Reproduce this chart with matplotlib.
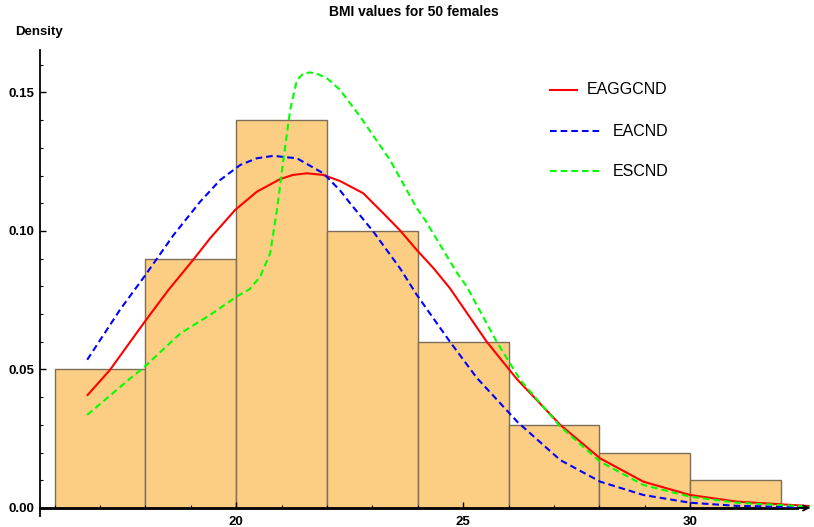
import numpy as np
import matplotlib
matplotlib.use("Agg")
import matplotlib.pyplot as plt
from matplotlib.lines import Line2D

# ---- data ----
bin_edges = [16, 18, 20, 22, 24, 26, 28, 30, 32]
densities = [0.05, 0.09, 0.14, 0.10, 0.06, 0.03, 0.02, 0.01]

eaggcnd_x = [16.73, 17.22, 17.99, 18.5, 19.06, 19.43, 19.98, 20.46, 20.97, 21.25, 21.56, 21.92, 22.29,
             22.80, 23.24, 23.61, 23.98, 24.35, 24.71, 25.1, 25.52, 26.18, 27.14, 28.02, 28.97, 30.0,
             31.03, 32.64]
eaggcnd_y = [0.0408, 0.0498, 0.0673, 0.0785, 0.0897, 0.0974, 0.1076, 0.1142, 0.1187, 0.1202, 0.1208,
             0.1202, 0.1180, 0.1136, 0.1064, 0.1002, 0.0931, 0.0865, 0.0793, 0.0700, 0.0600, 0.0466,
             0.0300, 0.0179, 0.0095, 0.0047, 0.0023, 0.0007]

eacnd_x = [16.72, 17.44, 17.99, 18.62, 19.21, 19.65, 20.09, 20.45, 20.82, 21.34, 21.92, 22.29, 22.51,
           23.02, 23.61, 23.98, 24.71, 25.30, 26.2, 27.14, 28.02, 28.97, 30.0, 31.0, 32.64]
eacnd_y = [0.0535, 0.0715, 0.0838, 0.0985, 0.1106, 0.1184, 0.1238, 0.1262, 0.1271, 0.1262, 0.1208,
           0.1146, 0.1100, 0.0998, 0.0865, 0.0769, 0.0600, 0.0470, 0.0310, 0.0173, 0.0095, 0.0047,
           0.0019, 0.0008, 0.0002]

escnd_x = [16.72, 17.11, 17.67, 17.96, 18.77, 19.43, 20.01, 20.3, 20.53, 20.75, 20.9, 21.04, 21.19,
           21.34, 21.48, 21.63, 21.8, 22.0, 22.29, 22.73, 23.39, 23.98, 24.16, 24.86, 25.08, 25.74,
           26.26, 27.14, 28.02, 28.97, 30.0, 31.03, 32.64]
escnd_y = [0.0336, 0.0390, 0.0468, 0.0506, 0.0630, 0.0697, 0.0763, 0.0790, 0.0835, 0.0920, 0.1076,
           0.1256, 0.1437, 0.1545, 0.1568, 0.1572, 0.1566, 0.1551, 0.1509, 0.1413, 0.1256, 0.1082,
           0.1040, 0.0850, 0.0799, 0.0600, 0.0462, 0.0294, 0.0167, 0.0083, 0.0041, 0.0019, 0.0005]

series_names = ["EAGGCND", "EACND", "ESCND"]
x_major = [20, 25, 30]
y_major = [0.00, 0.05, 0.10, 0.15]
y_labels = ["0.00", "0.05", "0.10", "0.15"]

# ---- figure ----
plt.rcParams['font.family'] = ['Liberation Sans', 'DejaVu Sans']
W, H = 814, 527
fig = plt.figure(figsize=(W / 100, H / 100), dpi=100)

xmin, xmax = 15.68, 32.64
ymin, ymax = -0.003, 0.1653
left_px, right_px = 40, 810
bottom_px = 508 + 0.003 * 2770
top_px = 50
ax = fig.add_axes([left_px / W, 1 - bottom_px / H, (right_px - left_px) / W, (bottom_px - top_px) / H])
ax.set_xlim(xmin, xmax)
ax.set_ylim(ymin, ymax)

# histogram
widths = np.diff(bin_edges)
ax.bar(bin_edges[:-1], densities, width=widths, align='edge', color='#FBCE83',
       edgecolor='#7E6E58', linewidth=1.0, zorder=1)

lw = 1.5
dash = (0, (3.2, 1.9))
ax.plot(eaggcnd_x, eaggcnd_y, color='#FF0000', lw=lw, zorder=3)
ax.plot(eacnd_x, eacnd_y, color='#0000FF', lw=lw, ls=dash, zorder=3)
ax.plot(escnd_x, escnd_y, color='#00FF00', lw=lw, ls=dash, zorder=3)

# spines / axes
for s in ['top', 'right']:
    ax.spines[s].set_visible(False)
ax.spines['left'].set_linewidth(1.3)
ax.spines['left'].set_zorder(5)
ax.spines['bottom'].set_position(('data', 0))
ax.spines['bottom'].set_linewidth(2.0)
ax.spines['bottom'].set_bounds(xmin, 32.35)
ax.spines['bottom'].set_zorder(2)
ax.annotate('', xy=(xmax, 0), xytext=(xmax - 0.25, 0), xycoords='data',
            arrowprops=dict(arrowstyle='->', lw=1.3, color='black', shrinkA=0, shrinkB=0,
                            mutation_scale=9), zorder=5, annotation_clip=False)

ax.set_xticks(x_major)
ax.set_xticks(np.arange(16, 33, 1), minor=True)
ax.set_yticks(y_major)
ax.set_yticklabels(y_labels)
ax.set_yticks(np.arange(0, 0.161, 0.01), minor=True)
ax.tick_params(axis='x', which='both', direction='in', pad=6, labelsize=9.5)
ax.tick_params(axis='x', which='major', length=4, width=1)
ax.tick_params(axis='x', which='minor', length=2.5, width=0.8)
ax.tick_params(axis='y', which='major', direction='in', length=4, width=1, pad=4, labelsize=9.5)
ax.tick_params(axis='y', which='minor', direction='in', length=2.5, width=0.8)
for lab in ax.get_xticklabels() + ax.get_yticklabels():
    lab.set_fontweight('bold')

# title and y label
fig.text(414 / W, 1 - 12 / H, "BMI values for 50 females", ha='center', va='center',
         fontsize=10, fontweight='bold')
fig.text(15 / W, 1 - 32 / H, "Density", ha='left', va='center', fontsize=9.5, fontweight='bold')

# legend (manual)
leg = [
    (series_names[0], '#FF0000', '-', 550, 577, 90, 587),
    (series_names[1], '#0000FF', dash, 550, 602, 131, 613),
    (series_names[2], '#00FF00', dash, 550, 602, 171, 613),
]
for name, col, ls, x0, x1, yy, tx in leg:
    fig.add_artist(Line2D([x0 / W, x1 / W], [1 - yy / H, 1 - yy / H], color=col, lw=lw, ls=ls,
                          transform=fig.transFigure))
    fig.text(tx / W, 1 - yy / H, name, ha='left', va='center', fontsize=11.5)

fig.savefig("out.png", dpi=100)
